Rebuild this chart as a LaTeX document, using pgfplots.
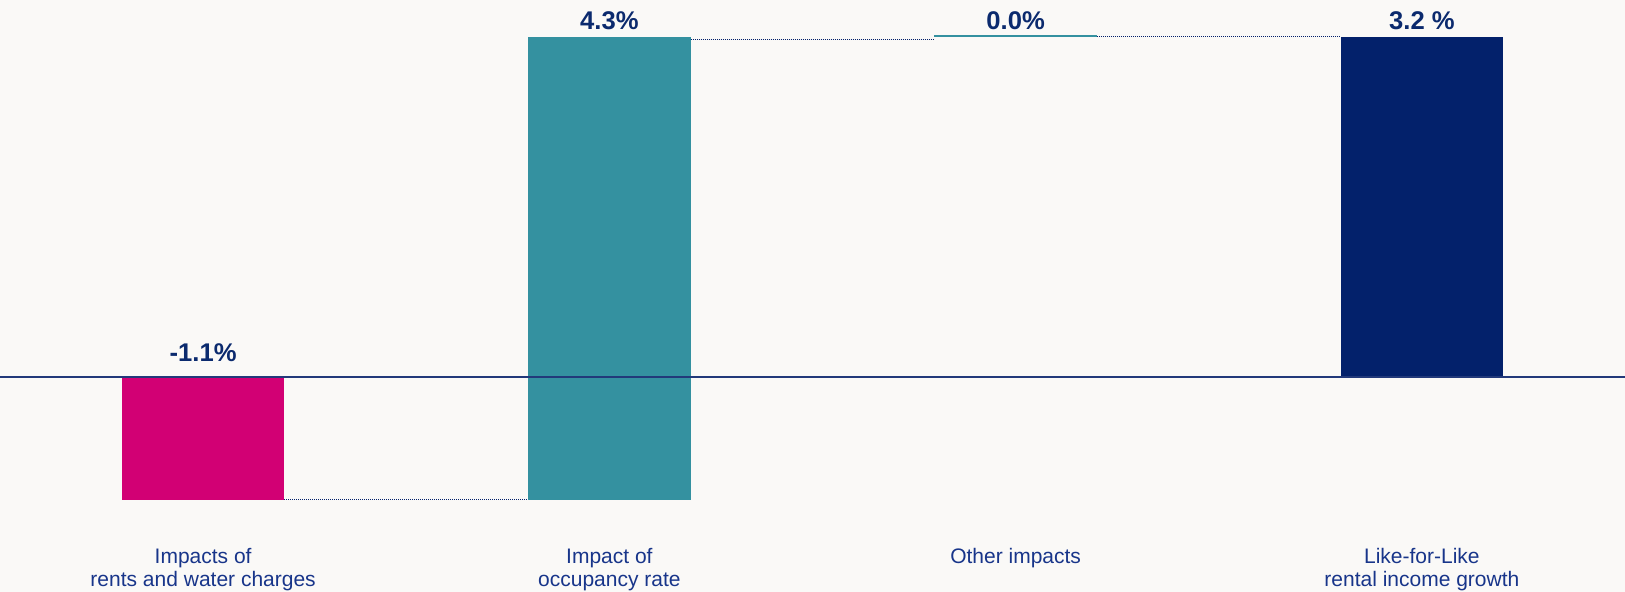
\documentclass[border=0pt]{standalone}
\usepackage{pgfplots}
\pgfplotsset{compat=1.18}
\usepackage{fontspec}
\setmainfont{Liberation Sans}
\definecolor{bg}{HTML}{FAF9F7}
\definecolor{mag}{HTML}{D20074}
\definecolor{teal2}{HTML}{3491A0}
\definecolor{navy}{HTML}{03216B}
\definecolor{lbl}{HTML}{0B2A6E}
\definecolor{cat}{HTML}{18358A}
\definecolor{zline}{HTML}{22397A}
\begin{document}
\begin{tikzpicture}
\fill[bg] (0,-37.43pt) rectangle (812.5pt,258.57pt);
\useasboundingbox (0,-37.43pt) rectangle (812.5pt,258.57pt);
\begin{axis}[
  at={(0,0)}, anchor=south west,
  scale only axis, width=812.5pt, height=258.57pt,
  xmin=-0.5, xmax=3.5, ymin=-1.3, ymax=3.4972,
  axis line style={draw=none},
  ytick=\empty,
  xtick={0,1,2,3},
  xticklabels={{Impacts of\\rents and water charges},{Impact of\\occupancy rate},{Other impacts},{Like-for-Like\\rental income growth}},
  major tick length=0pt,
  xticklabel style={align=center, font=\fontsize{10.5}{11.5}\selectfont, text=cat, anchor=north, yshift=-12pt},
  clip=false,
]
% bars (waterfall)
\addplot[draw=none, fill=mag] coordinates {(-0.2,0) (0.2,0) (0.2,-1.145) (-0.2,-1.145)} -- cycle;
\addplot[draw=none, fill=teal2] coordinates {(0.8,-1.145) (1.2,-1.145) (1.2,3.155) (0.8,3.155)} -- cycle;
\addplot[teal2, line width=1pt] coordinates {(1.8,3.16) (2.2,3.16)};
\addplot[draw=none, fill=navy] coordinates {(2.8,0) (3.2,0) (3.2,3.155) (2.8,3.155)} -- cycle;
% connectors
\addplot[navy, line width=0.5pt, dash pattern=on 0.5pt off 0.5pt] coordinates {(0.2,-1.14) (0.8,-1.14)};
\addplot[navy, line width=0.5pt, dash pattern=on 0.5pt off 0.5pt] coordinates {(1.2,3.135) (1.8,3.135)};
\addplot[navy, line width=0.5pt, dash pattern=on 0.5pt off 0.5pt] coordinates {(2.2,3.16) (2.8,3.16)};
% zero line
\addplot[zline, line width=0.7pt] coordinates {(-0.5,0) (3.5,0)};
% value labels
\node[anchor=base, yshift=7.65pt, text=lbl, font=\fontsize{12.8}{15}\selectfont\bfseries] at (axis cs:0,0) {-1.1\%};
\node[anchor=base, yshift=3.45pt, text=lbl, font=\fontsize{12.8}{15}\selectfont\bfseries] at (axis cs:1,3.155) {4.3\%};
\node[anchor=base, yshift=3.45pt, text=lbl, font=\fontsize{12.8}{15}\selectfont\bfseries] at (axis cs:2,3.155) {0.0\%};
\node[anchor=base, yshift=3.45pt, text=lbl, font=\fontsize{12.8}{15}\selectfont\bfseries] at (axis cs:3,3.155) {3.2 \%};
\end{axis}
\end{tikzpicture}
\end{document}
